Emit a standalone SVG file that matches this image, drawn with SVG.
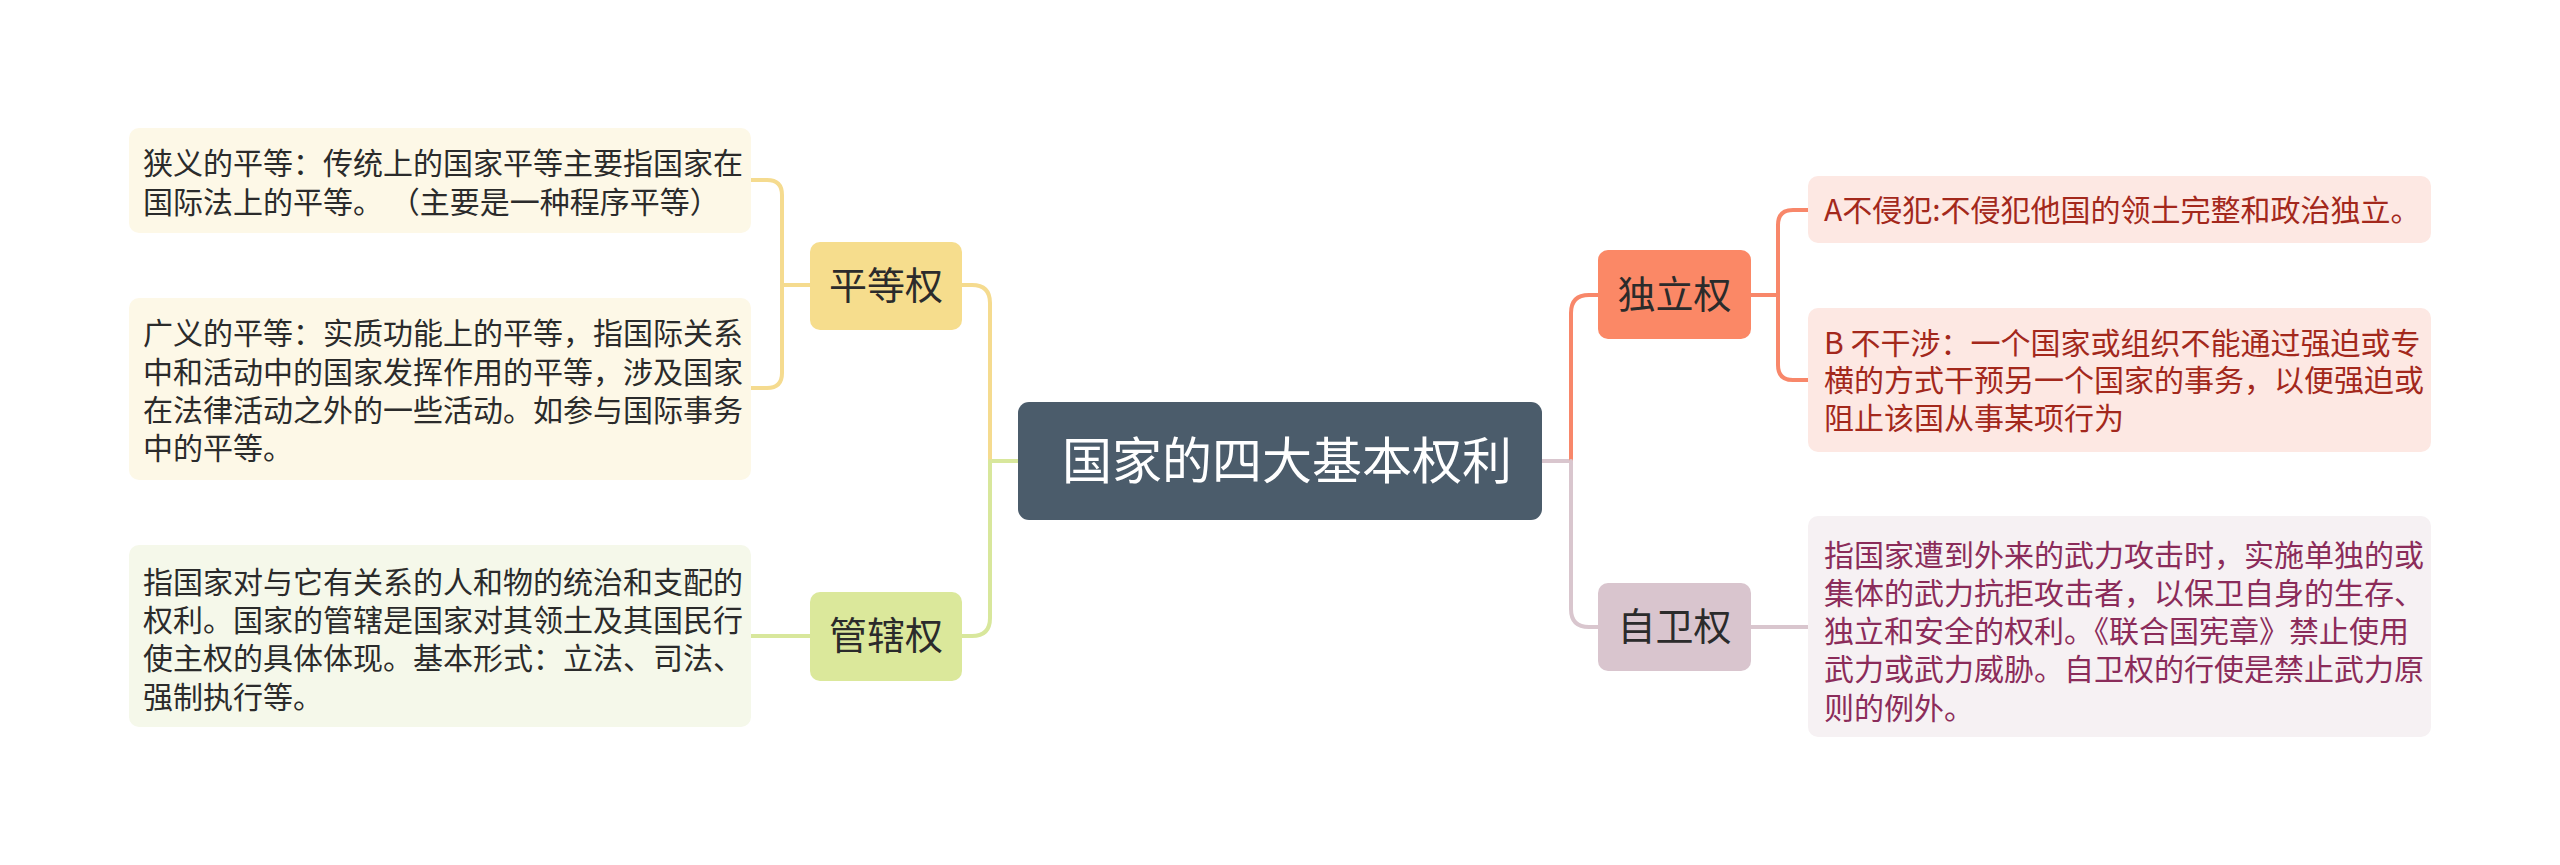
<svg xmlns="http://www.w3.org/2000/svg" width="2560" height="865" viewBox="0 0 2560 865">
<style>
text{font-family:"Noto Sans CJK SC","Noto Sans",sans-serif;}
.desc{font-size:30px;}
.lbl{font-size:38px;fill:#2b2b2b;text-anchor:middle;}
.c{fill:none;stroke-width:4;stroke-linecap:round;}
.y{stroke:#f5db8f;}
.g{stroke:#d8e79c;}
.o{stroke:#f8876a;}
.m{stroke:#d9c6ce;}
</style>
<rect width="2560" height="865" fill="#ffffff"/>
<g id="connectors">
<path class="c m" d="M1542,461 H1571"/>
<path class="c o" d="M1571,461 V313 Q1571,295 1589,295 H1598"/>
<path class="c m" d="M1571,461 V609 Q1571,627 1589,627 H1598"/>
<path class="c g" d="M1018,461 H990"/>
<path class="c y" d="M990,461 V303 Q990,285 972,285 H962"/>
<path class="c g" d="M990,461 V618 Q990,636 972,636 H962"/>
<path class="c y" d="M810,285 H782"/>
<path class="c y" d="M782,285 V195 Q782,180 767,180 H751"/>
<path class="c y" d="M782,285 V373 Q782,388 767,388 H751"/>
<path class="c g" d="M810,636 H751"/>
<path class="c o" d="M1751,295 H1778"/>
<path class="c o" d="M1778,295 V225 Q1778,210 1793,210 H1808"/>
<path class="c o" d="M1778,295 V365 Q1778,380 1793,380 H1808"/>
<path class="c m" d="M1751,627 H1808"/>
</g>
<g id="center">
<rect x="1018" y="402" width="524" height="118" rx="11" fill="#4b5c6b"/>
<text x="1287" y="479" font-size="50" fill="#ffffff" text-anchor="middle">国家的四大基本权利</text>
</g>
<g id="node-pingdeng">
<rect x="810" y="242" width="152" height="88" rx="10" fill="#f6dd8d"/>
<text class="lbl" x="886" y="299">平等权</text>
</g>
<g id="node-guanxia">
<rect x="810" y="592" width="152" height="89" rx="10" fill="#dbe89b"/>
<text class="lbl" x="886" y="649">管辖权</text>
</g>
<g id="node-duli">
<rect x="1598" y="250" width="153" height="89" rx="10" fill="#fb8866"/>
<text class="lbl" x="1674.5" y="308">独立权</text>
</g>
<g id="node-ziwei">
<rect x="1598" y="583" width="153" height="88" rx="10" fill="#d9c5ce"/>
<text class="lbl" x="1674.5" y="640">自卫权</text>
</g>
<g id="leaf-xiayi">
<rect x="129" y="128" width="622" height="105" rx="10" fill="#fdf8e7"/>
<text class="desc" fill="#2b2b2b"><tspan x="143" y="174">狭义的平等：传统上的国家平等主要指国家在</tspan><tspan x="143" y="213">国际法上的平等。 （主要是一种程序平等）</tspan></text>
</g>
<g id="leaf-guangyi">
<rect x="129" y="298" width="622" height="182" rx="10" fill="#fdf8e7"/>
<text class="desc" fill="#2b2b2b"><tspan x="143" y="344">广义的平等：实质功能上的平等，指国际关系</tspan><tspan x="143" y="383">中和活动中的国家发挥作用的平等，涉及国家</tspan><tspan x="143" y="421">在法律活动之外的一些活动。如参与国际事务</tspan><tspan x="143" y="459">中的平等。</tspan></text>
</g>
<g id="leaf-guanxia">
<rect x="129" y="545" width="622" height="182" rx="10" fill="#f5f8ea"/>
<text class="desc" fill="#2b2b2b"><tspan x="143" y="593">指国家对与它有关系的人和物的统治和支配的</tspan><tspan x="143" y="631">权利。国家的管辖是国家对其领土及其国民行</tspan><tspan x="143" y="669">使主权的具体体现。基本形式：立法、司法、</tspan><tspan x="143" y="708">强制执行等。</tspan></text>
</g>
<g id="leaf-a">
<rect x="1808" y="176" width="623" height="67" rx="10" fill="#fde8e3"/>
<text class="desc" fill="#a3281c"><tspan x="1824" y="221">A不侵犯:不侵犯他国的领土完整和政治独立。</tspan></text>
</g>
<g id="leaf-b">
<rect x="1808" y="308" width="623" height="144" rx="10" fill="#fde8e3"/>
<text class="desc" fill="#a3281c"><tspan x="1824" y="354">B 不干涉：一个国家或组织不能通过强迫或专</tspan><tspan x="1824" y="391">横的方式干预另一个国家的事务，以便强迫或</tspan><tspan x="1824" y="429">阻止该国从事某项行为</tspan></text>
</g>
<g id="leaf-ziwei">
<rect x="1808" y="516" width="623" height="221" rx="10" fill="#f6f1f3"/>
<text class="desc" fill="#8b2c5a"><tspan x="1824" y="566">指国家遭到外来的武力攻击时，实施单独的或</tspan><tspan x="1824" y="604">集体的武力抗拒攻击者，以保卫自身的生存、</tspan><tspan x="1824" y="642">独立和安全的权利。《联合国宪章》禁止使用</tspan><tspan x="1824" y="680">武力或武力威胁。自卫权的行使是禁止武力原</tspan><tspan x="1824" y="719">则的例外。</tspan></text>
</g>
</svg>
